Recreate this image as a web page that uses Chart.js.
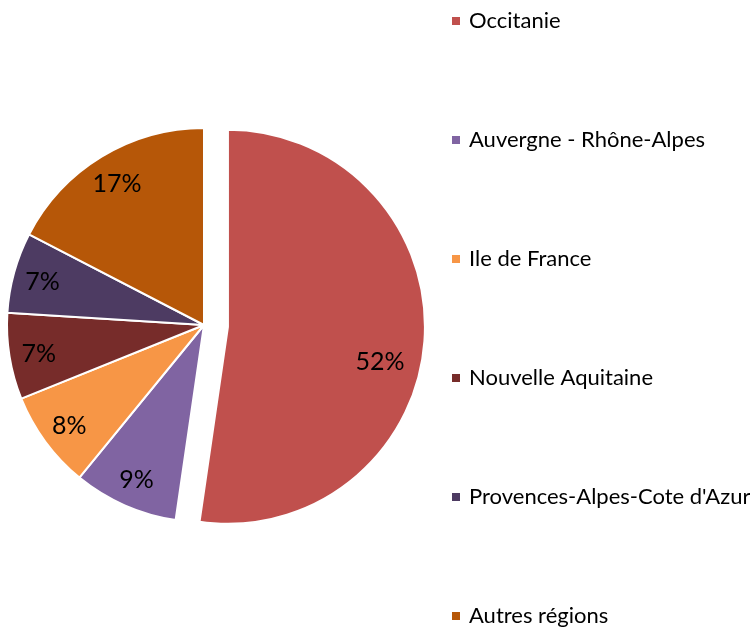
<!DOCTYPE html>
<html>
<head>
<meta charset="utf-8">
<script src="https://cdn.jsdelivr.net/npm/chart.js@4.4.0/dist/chart.umd.min.js"></script>
<style>
  html, body { margin: 0; padding: 0; background: #fff; }
  #wrap { width: 750px; height: 628px; }
</style>
</head>
<body>
<div id="wrap"><canvas id="pieChart" width="750" height="628"></canvas></div>
<script>
// Data (shares in %)
const regions = ['Occitanie', 'Auvergne - Rhône-Alpes', 'Ile de France', 'Nouvelle Aquitaine', "Provences-Alpes-Cote d'Azur", 'Autres régions'];
const shares = [52.3, 8.6, 8.0, 7.1, 6.6, 17.4];
const sliceColors = ['#C0504D', '#8064A2', '#F79646', '#772C2A', '#4D3B62', '#B65708'];

const EXPLODE = 24;     // px the first slice is pulled out
const FONT = 'Lato, "Open Sans", sans-serif';

// Chart.js grows an offset arc and trims its angles a little;
// undo both so the pulled-out slice keeps its true size
const explodeFix = {
    id: 'explodeFix',
    afterDatasetUpdate(chart, args) {
        const arc = chart.getDatasetMeta(args.index).data[0];
        if (!arc) return;
        arc.outerRadius -= EXPLODE;
        const widen = EXPLODE / Math.PI / (arc.outerRadius + EXPLODE) / 2;
        arc.startAngle -= widen;
        arc.endAngle += widen;
    }
};

// percentage labels inside the slices
const percentLabels = {
    id: 'percentLabels',
    afterDatasetsDraw(chart) {
        const ctx = chart.ctx;
        const meta = chart.getDatasetMeta(0);
        const total = shares.reduce((a, b) => a + b, 0);
        ctx.save();
        ctx.font = '25px ' + FONT;
        ctx.fillStyle = '#000';
        ctx.textAlign = 'center';
        ctx.textBaseline = 'middle';
        meta.data.forEach((arc, i) => {
            let mid = (arc.startAngle + arc.endAngle) / 2;
            let cx = arc.x, cy = arc.y, r = arc.outerRadius * 0.85;
            if (i === 0) {
                // exploded slice: label sits a bit lower, like Excel's best fit
                cx += Math.cos(mid) * EXPLODE;
                cy += Math.sin(mid) * EXPLODE;
                mid += 0.14;
                r = (arc.outerRadius + EXPLODE) * 0.79;
            }
            const txt = Math.round(shares[i] / total * 100) + '%';
            ctx.fillText(txt, cx + Math.cos(mid) * r, cy + Math.sin(mid) * r + 2);
        });
        ctx.restore();
    }
};

// legend on the right, evenly spread down the canvas
const sideLegend = {
    id: 'sideLegend',
    afterDraw(chart) {
        const ctx = chart.ctx;
        const ds = chart.data.datasets[0];
        ctx.save();
        ctx.font = '22px ' + FONT;
        ctx.textBaseline = 'middle';
        ctx.textAlign = 'left';
        chart.data.labels.forEach((label, i) => {
            const y = 21 + i * 119;
            ctx.fillStyle = ds.backgroundColor[i];
            ctx.fillRect(452, y - 4, 8, 8);
            ctx.fillStyle = '#000';
            ctx.fillText(label, 469, y);
        });
        ctx.restore();
    }
};

const chart = new Chart(document.getElementById('pieChart').getContext('2d'), {
    type: 'pie',
    data: {
        labels: regions,
        datasets: [{
            data: shares,
            backgroundColor: sliceColors,
            borderColor: '#fff',
            borderWidth: 2,
            hoverOffset: 0,
            offset: ctx => ctx.dataIndex === 0 ? EXPLODE * 4 : 0,
            clip: false
        }]
    },
    options: {
        responsive: false,
        animation: false,
        events: [],
        radius: 197,
        layout: { padding: { left: 0, right: 342, top: 22, bottom: 0 } },
        plugins: {
            legend: { display: false },
            tooltip: { enabled: false }
        }
    },
    plugins: [explodeFix, percentLabels, sideLegend]
});
</script>
</body>
</html>
